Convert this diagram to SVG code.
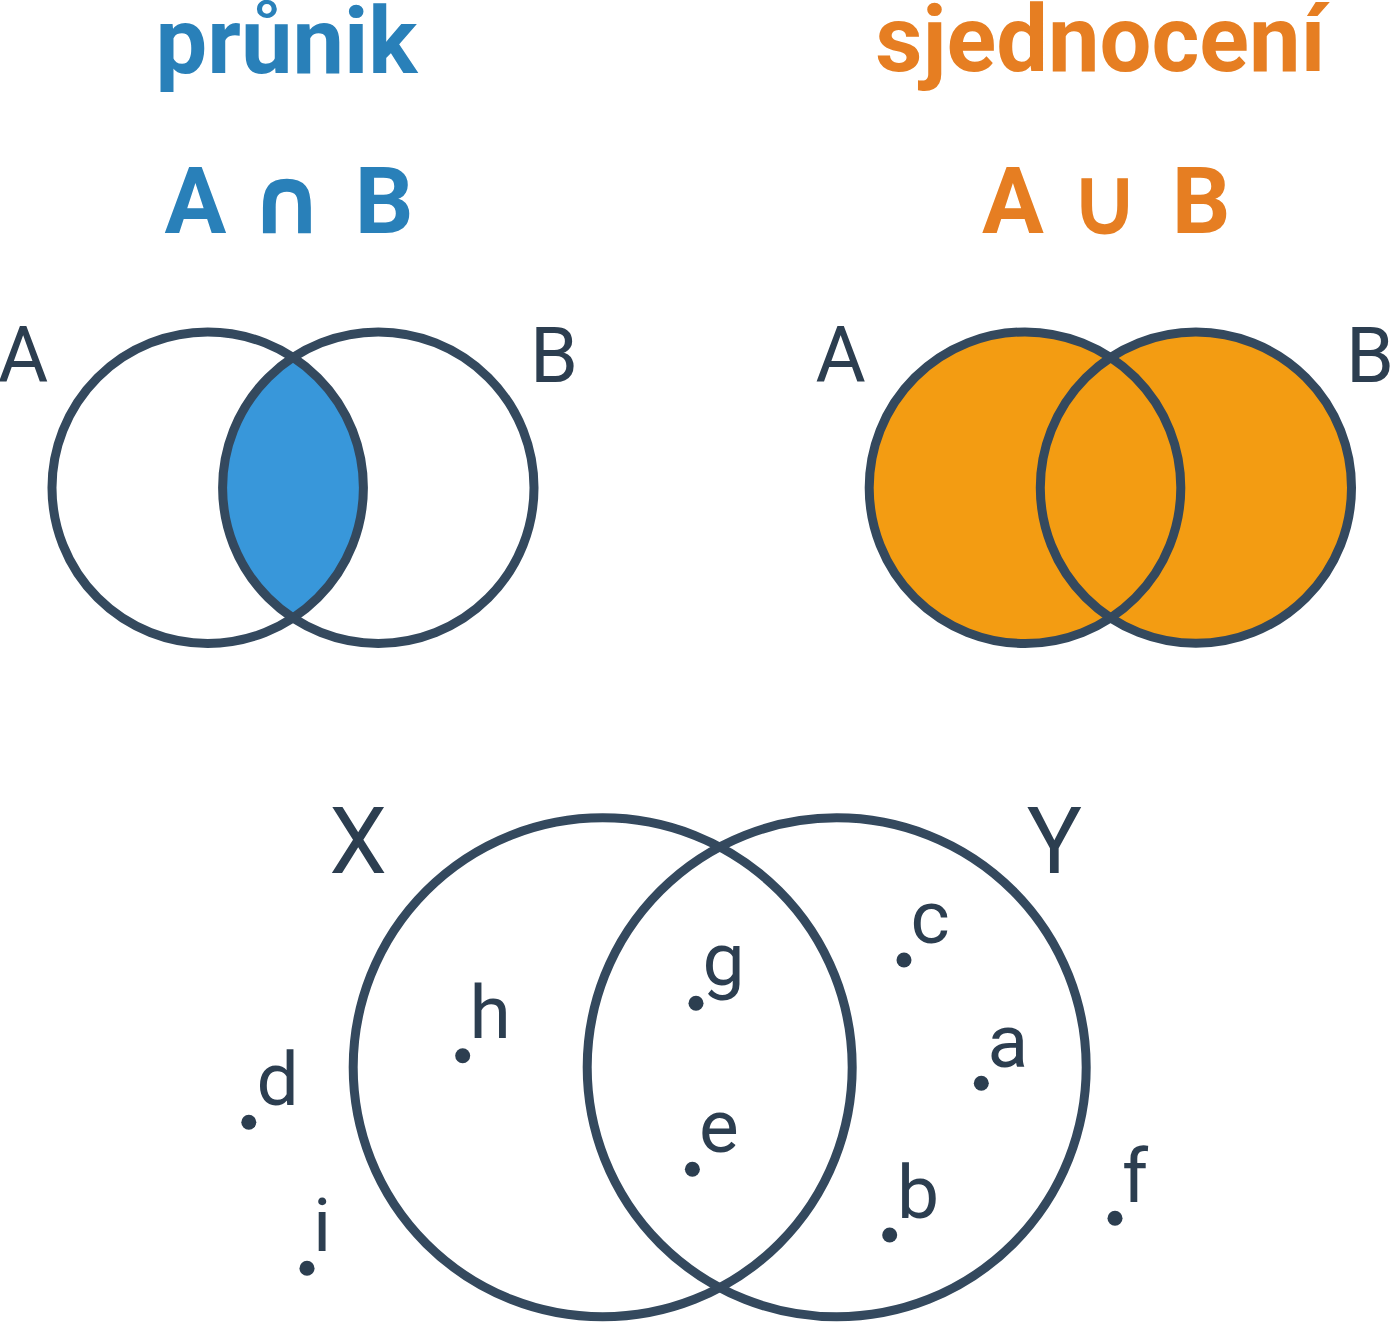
<svg xmlns="http://www.w3.org/2000/svg" width="1390" height="1323" viewBox="0 0 1390 1323">
<style>
.title{font-family:Roboto,"Liberation Sans",sans-serif;font-weight:700;font-size:92px}
.blue{fill:#2980b9}
.orange{fill:#e67e22}
.cap{font-family:"DejaVu Sans",Roboto,sans-serif;font-weight:700;font-size:94px}
.ring{fill:none;stroke:#34495e;stroke-width:9}
.lbl{font-family:Roboto,"Liberation Sans",sans-serif;font-size:77px;fill:#2c3e50}
.big{font-family:Roboto,"Liberation Sans",sans-serif;font-size:92px;fill:#2c3e50}
.el{font-family:Roboto,"Liberation Sans",sans-serif;font-size:75px;fill:#2c3e50}
.dot{fill:#2c3e50}
</style>
<defs>
<clipPath id="clipA"><circle cx="207.7" cy="487.7" r="155.7"/></clipPath>
</defs>
<rect width="1390" height="1323" fill="#ffffff"/>

<g id="intersection">
<text class="title blue" x="286.5" y="72.7" text-anchor="middle">průnik</text>
<text class="title blue" y="233" text-anchor="middle"><tspan x="195.5">A</tspan><tspan class="cap" x="287">∩</tspan><tspan x="384">B</tspan></text>
<circle cx="207.7" cy="487.7" r="155.7" fill="#ffffff"/>
<circle cx="378.3" cy="487.7" r="155.7" fill="#ffffff"/>
<circle cx="378.3" cy="487.7" r="155.7" fill="#3897da" clip-path="url(#clipA)"/>
<circle class="ring" cx="207.7" cy="487.7" r="155.7"/>
<circle class="ring" cx="378.3" cy="487.7" r="155.7"/>
<text class="lbl" x="23" y="382" text-anchor="middle">A</text>
<text class="lbl" x="554" y="382" text-anchor="middle">B</text>
</g>

<g id="union">
<text class="title orange" x="1100.5" y="70.7" text-anchor="middle">sjednocení</text>
<text class="title orange" y="233" text-anchor="middle"><tspan x="1013">A</tspan><tspan x="1104">∪</tspan><tspan x="1201">B</tspan></text>
<circle cx="1025" cy="487.7" r="155.8" fill="#f39c12"/>
<circle cx="1195.9" cy="487.7" r="155.6" fill="#f39c12"/>
<circle class="ring" cx="1025" cy="487.7" r="155.8"/>
<circle class="ring" cx="1195.9" cy="487.7" r="155.6"/>
<text class="lbl" x="840.5" y="382" text-anchor="middle">A</text>
<text class="lbl" x="1370" y="382" text-anchor="middle">B</text>
</g>

<g id="xy">
<circle class="ring" cx="602.7" cy="1067.3" r="249.5"/>
<circle class="ring" cx="836.7" cy="1067.3" r="249.5"/>
<text class="big" x="358" y="873" text-anchor="middle">X</text>
<text class="big" x="1054.5" y="873" text-anchor="middle">Y</text>
</g>

<g id="elements">
<g id="el-h"><circle class="dot" cx="462.7" cy="1055.7" r="7.5"/><text class="el" x="469.5" y="1038.3">h</text></g>
<g id="el-d"><circle class="dot" cx="248.8" cy="1122.3" r="7.5"/><text class="el" x="256.5" y="1105">d</text></g>
<g id="el-i"><circle class="dot" cx="307" cy="1268.3" r="7.5"/><text class="el" x="313" y="1251">i</text></g>
<g id="el-g"><circle class="dot" cx="696" cy="1003.3" r="7.5"/><text class="el" x="702.5" y="985">g</text></g>
<g id="el-e"><circle class="dot" cx="692.4" cy="1169.3" r="7.5"/><text class="el" x="699" y="1152">e</text></g>
<g id="el-c"><circle class="dot" cx="904" cy="960" r="7.5"/><text class="el" x="910.5" y="943">c</text></g>
<g id="el-a"><circle class="dot" cx="981.3" cy="1083.3" r="7.5"/><text class="el" x="987.5" y="1067">a</text></g>
<g id="el-b"><circle class="dot" cx="889.7" cy="1235" r="7.5"/><text class="el" x="897" y="1217.5">b</text></g>
<g id="el-f"><circle class="dot" cx="1115" cy="1218.3" r="7.5"/><text class="el" x="1122" y="1201.5">f</text></g>
</g>

<g id="connectors"></g>
</svg>
